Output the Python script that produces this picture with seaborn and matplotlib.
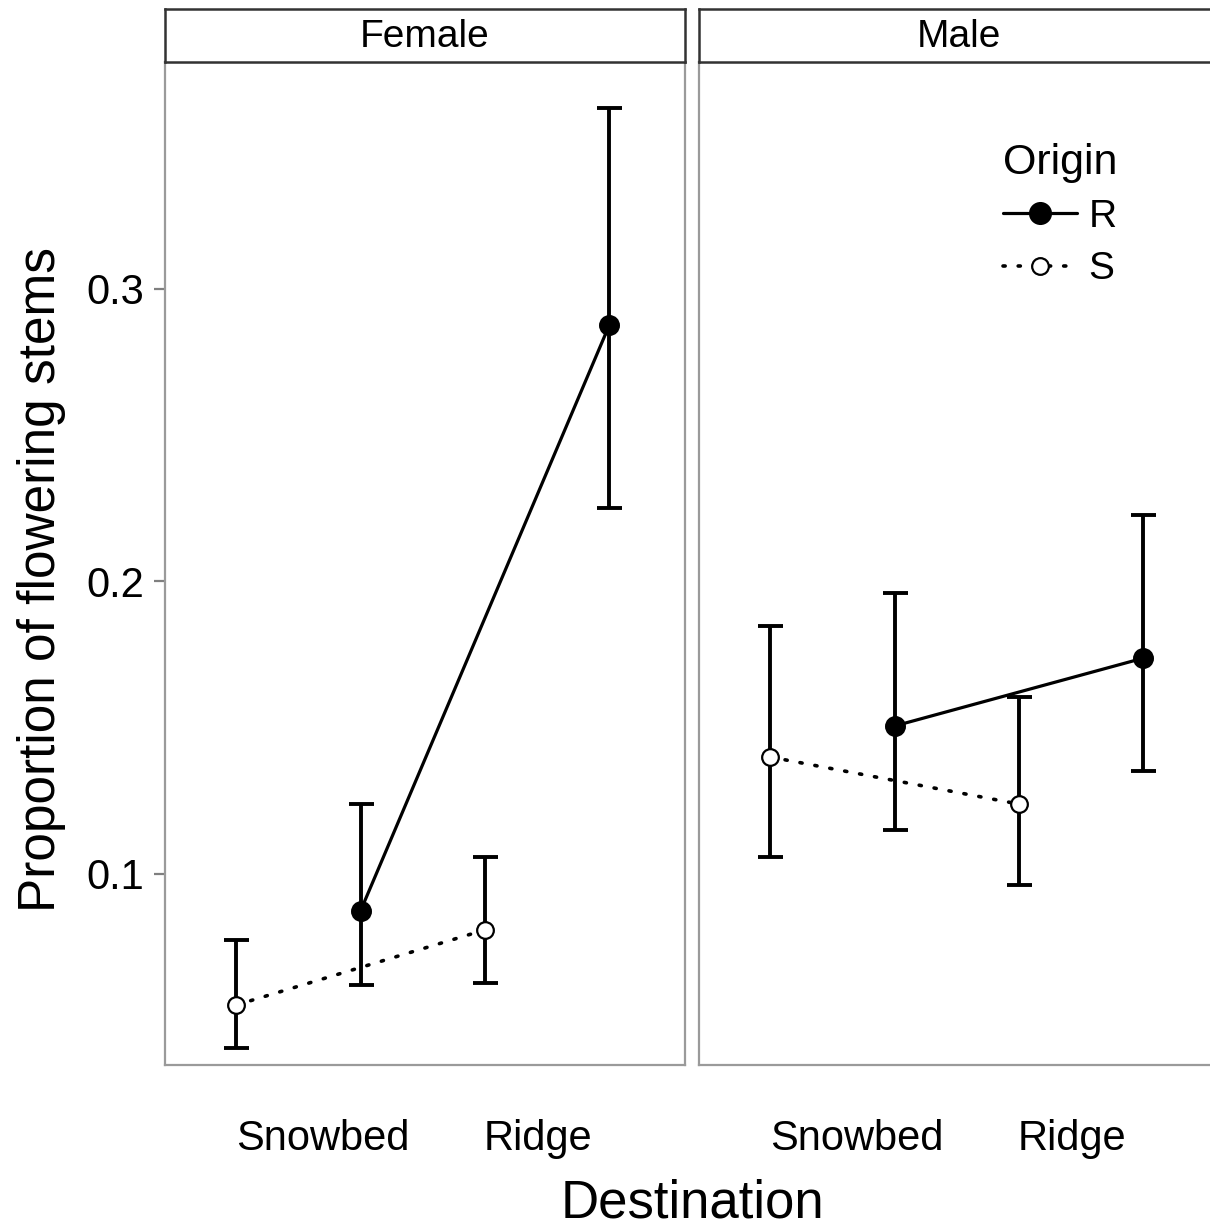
import matplotlib

matplotlib.use("Agg")

import matplotlib.pyplot as plt
from matplotlib.lines import Line2D
from matplotlib.transforms import ScaledTranslation, blended_transform_factory
import pandas as pd
import seaborn as sns

# values
sexes = ["Female", "Male"]
destinations = ["Snowbed", "Ridge"]
origins = ["R", "S"]

female_r = [0.0874, 0.2877]
female_r_lo = [0.0620, 0.2251]
female_r_hi = [0.1239, 0.3619]
female_s = [0.0552, 0.0809]
female_s_lo = [0.0405, 0.0627]
female_s_hi = [0.0774, 0.1058]

male_r = [0.1506, 0.1738]
male_r_lo = [0.1150, 0.1352]
male_r_hi = [0.1960, 0.2227]
male_s = [0.1400, 0.1239]
male_s_lo = [0.1058, 0.0962]
male_s_hi = [0.1848, 0.1605]

yticks = [0.1, 0.2, 0.3]

series = {
    ("Female", "R"): (female_r, female_r_lo, female_r_hi),
    ("Female", "S"): (female_s, female_s_lo, female_s_hi),
    ("Male", "R"): (male_r, male_r_lo, male_r_hi),
    ("Male", "S"): (male_s, male_s_lo, male_s_hi),
}
rows = []
for (sex, origin), (vals, lo, hi) in series.items():
    for i, dest in enumerate(destinations):
        rows.append(dict(Sex=sex, Origin=origin, Destination=dest, idx=i + 1,
                         prop=vals[i], lo=lo[i], hi=hi[i]))
df = pd.DataFrame(rows)

dodge = {"S": -0.25, "R": 0.25}
df["xpos"] = df["idx"] + df["Origin"].map(dodge)

style = {
    "R": dict(linestyle="-", linewidth=2.3, markerfacecolor="black", markersize=13.5),
    "S": dict(linestyle=(0, (0.6, 3.6)), linewidth=2.6, dash_capstyle="round",
              markerfacecolor="white", markersize=12),
}

sns.set_theme(style="white")
plt.rcParams["font.family"] = ["Liberation Sans", "DejaVu Sans"]
plt.rcParams["text.color"] = "black"
plt.rcParams["axes.labelcolor"] = "black"
plt.rcParams["xtick.color"] = "black"
plt.rcParams["ytick.color"] = "black"

W, H = 1210, 1228
fig = plt.figure(figsize=(W / 100, H / 100), dpi=100)
px = fig.dpi_scale_trans

panel_left = [165, 699]
panel_w, panel_top, panel_bottom = 520, 62, 1065
strip_top = 9

axes = []
for k, sex in enumerate(sexes):
    l = panel_left[k]
    ax = fig.add_axes([l / W, (H - panel_bottom) / H, panel_w / W,
                       (panel_bottom - panel_top) / H])
    axes.append(ax)
    sub_sex = df[df["Sex"] == sex]
    for origin in origins:
        sub = sub_sex[sub_sex["Origin"] == origin]
        ax.errorbar(sub["xpos"], sub["prop"],
                    yerr=[sub["prop"] - sub["lo"], sub["hi"] - sub["prop"]],
                    fmt="none", ecolor="black", elinewidth=2.8, capsize=9,
                    capthick=2.8, zorder=2)
        sns.lineplot(data=sub, x="xpos", y="prop", ax=ax, color="black",
                     marker="o", markeredgecolor="black",
                     markeredgewidth=1.6, errorbar=None, legend=False,
                     zorder=3, **style[origin])

    ax.set_xlim(0.464, 2.554)
    ax.set_ylim(0.0347, 0.3776)
    ax.set_xticks([])
    ax.set_xlabel("")
    ax.set_ylabel("")
    # category labels, placed like the reference (slightly off the group centres)
    for i, (dest, dx) in enumerate(zip(destinations, [24, -9])):
        tr = blended_transform_factory(ax.transData, ax.transAxes) + \
            ScaledTranslation(dx / 100, -85 / 100, px)
        ax.text(i + 1, 0, dest, transform=tr, ha="center", va="baseline",
                fontsize=30)
    for sp in ax.spines.values():
        sp.set_color("#9a9a9a")
        sp.set_linewidth(1.6)

    # facet strip
    sax = fig.add_axes([l / W, (H - panel_top) / H, panel_w / W,
                        (panel_top - strip_top) / H])
    sax.set_facecolor("white")
    sax.set_xticks([])
    sax.set_yticks([])
    for sp in sax.spines.values():
        sp.set_color("#333333")
        sp.set_linewidth(1.8)
    sax.text(0.5, 0.47, sex, ha="center", va="center", fontsize=28,
             transform=sax.transAxes)

ax0, ax1 = axes
ax0.set_yticks(yticks)
ax0.set_yticklabels([f"{v:.1f}" for v in yticks], fontsize=30)
ax0.tick_params(axis="y", left=True, length=8, width=1.6, color="#7f7f7f", pad=7)
ax0.set_ylabel("Proportion of flowering stems", fontsize=37)
ax0.yaxis.set_label_coords(-0.19, (panel_bottom - 580) / (panel_bottom - panel_top))
ax1.set_yticks([])

handles = [
    Line2D([], [], color="black", marker="o", markeredgecolor="black",
           markeredgewidth=1.6, **style[o]) for o in origins
]
handles[0].set_markersize(15)
leg = ax1.legend(handles, origins, title="Origin", loc="upper left",
                 bbox_to_anchor=(0.555, 0.935), frameon=False, fontsize=28,
                 title_fontsize=31, handlelength=1.9, handletextpad=0.3,
                 labelspacing=0.42, borderaxespad=0)
leg._legend_box.align = "left"

fig.text((165 + 1219) / 2 / W, (H - 1217) / H, "Destination", ha="center",
         va="baseline", fontsize=38)

fig.savefig("out.png", dpi=100)
